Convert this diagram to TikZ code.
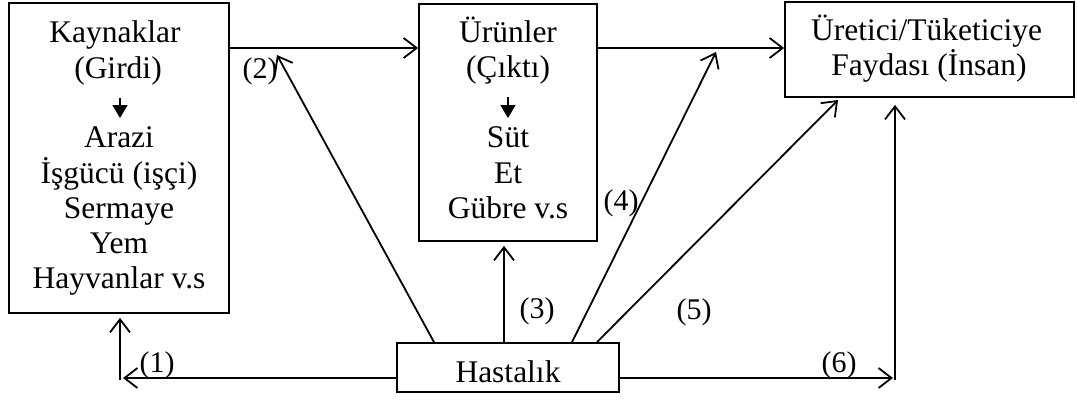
\documentclass[tikz,border=0pt]{standalone}
\usepackage{fontspec}
\setmainfont{Liberation Serif}
\usetikzlibrary{arrows.meta}
\begin{document}
\begin{tikzpicture}[x=1pt,y=-1pt,
  box/.style={draw,line width=1.8pt,inner sep=0pt},
  txt/.style={font=\fontsize{31.5}{36}\selectfont,anchor=base,inner sep=0pt},
  lab/.style={font=\fontsize{30}{34}\selectfont,inner sep=0pt},
  arr/.style={line width=1.8pt,-{Straight Barb[length=13pt,width=20pt,line width=1.8pt]}},
  smallarr/.style={line width=1.6pt,-{Triangle[length=13pt,width=15pt]}}]
\useasboundingbox (0,0) rectangle (1077,400);
% boxes
\node[box,minimum width=220pt,minimum height=310pt] (kay) at (119,158) {};
\node[box,minimum width=178pt,minimum height=237pt] (urun) at (508,122.5) {};
\node[box,minimum width=289pt,minimum height=95pt] (fay) at (929.5,49.5) {};
\node[box,minimum width=222pt,minimum height=49pt] (has) at (508,367.5) {};
% left box text
\node[txt] (k1) at (115,42) {Kaynaklar};
\node[txt] (k2) at (118,78) {(Girdi)};
\node[txt] (k3) at (119,147) {Arazi};
\node[txt] (k4) at (119,183) {İşgücü (işçi)};
\node[txt] (k5) at (119,218) {Sermaye};
\node[txt] (k6) at (119,253) {Yem};
\node[txt] (k7) at (119,288) {Hayvanlar v.s};
\draw[smallarr] ([yshift=-20pt]k2.base -| 120,0) -- ([yshift=29pt]k3.base -| 120,0);
% middle box text
\node[txt] (u1) at (508,42) {Ürünler};
\node[txt] (u2) at (508,77) {(Çıktı)};
\node[txt] (u3) at (508,147) {Süt};
\node[txt] (u4) at (508,183) {Et};
\node[txt] (u5) at (508,218) {Gübre v.s};
\draw[smallarr] ([yshift=-20pt]u2.base) -- ([yshift=29pt]u3.base);
% right box text
\node[txt] (f1) at (926.5,40) {Üretici/Tüketiciye};
\node[txt] (f2) at (929,75) {Faydası (İnsan)};
% disease
\node[txt] (h) at (508,382) {Hastalık};
% main flow
\draw[arr] (kay.east |- 0,48) -- (urun.west |- 0,48);
\draw[arr] (urun.east |- 0,48) -- (fay.west |- 0,48);
% disease effects
\coordinate (t2) at (277,55);
\coordinate (t4) at (716,52);
\coordinate (t5) at (838,100);
\coordinate (c1h) at (123,378);
\coordinate (c1v) at (120,380);
\coordinate (c6) at (895,378);
\coordinate (c6v) at (895,380);
\draw[arr] (has.north -| 434,0) -- (t2);
\draw[arr,shorten >=4pt] (has.north -| 504,0) -- (urun.south -| 504,0);
\draw[arr] (has.north -| 572,0) -- (t4);
\draw[arr] (has.north -| 597,0) -- (t5);
\draw[arr] (has.west |- c1h) -- (c1h);
\draw[arr,shorten >=4pt] (c1v) -- (kay.south -| c1v);
\draw[arr] (has.east |- c6) -- ([xshift=-2pt]c6);
\draw[arr,shorten >=7pt] (c6v) -- (fay.south -| c6v);
% labels
\node[lab] (l1) at (157,365) {(1)};
\node[lab] (l2) at (260,71) {(2)};
\node[lab] (l3) at (537,311) {(3)};
\node[lab] (l4) at (621,203) {(4)};
\node[lab] (l5) at (694,312) {(5)};
\node[lab] (l6) at (839,365) {(6)};
\end{tikzpicture}
\end{document}
